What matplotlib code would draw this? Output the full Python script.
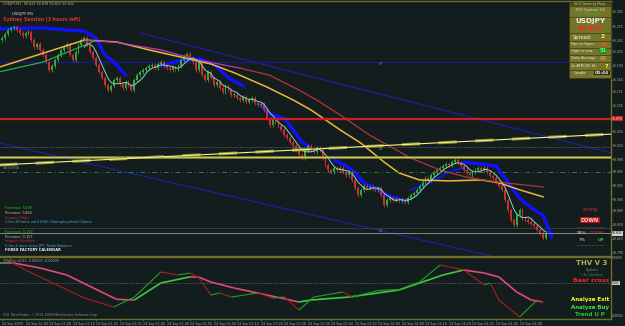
import matplotlib
matplotlib.use("Agg")
import matplotlib.pyplot as plt
import numpy as np
from matplotlib.patches import Rectangle
from matplotlib.collections import LineCollection

nan = np.nan

# USDJPY M1, 24 Sep 2009 -- bar 0 is 01:52
first_open = 91.245
closes = [
    91.249, 91.258, 91.267, 91.271, 91.273, 91.267,
    91.260, 91.254, 91.260,
    91.262, 91.245, 91.230, 91.237,
    91.224, 91.213, 91.198, 91.181,
    91.190, 91.202, 91.213, 91.224, 91.230, 91.237,
    91.213, 91.202,
    91.219, 91.234, 91.245,
    91.249, 91.234, 91.219, 91.207, 91.192, 91.177, 91.164, 91.149, 91.138, 91.147,
    91.160, 91.164, 91.151, 91.143, 91.155,
    91.149, 91.138, 91.160, 91.170, 91.177,
    91.181, 91.185, 91.190, 91.192, 91.185, 91.194, 91.198, 91.190,
    91.185, 91.181, 91.187, 91.183, 91.190,
    91.202, 91.211, 91.215, 91.207,
    91.198, 91.181, 91.198, 91.170, 91.160, 91.177, 91.164, 91.149,
    91.155, 91.143, 91.134, 91.147, 91.138, 91.128,
    91.128, 91.121, 91.117, 91.123, 91.113, 91.117, 91.121, 91.111, 91.106, 91.108,
    91.096, 91.078, 91.063, 91.074,
    91.070, 91.061, 91.053, 91.042,
    91.036, 91.027, 91.019, 91.010,
    90.999, 90.993, 91.010, 91.019, 91.010,
    91.006, 91.014, 91.010,
    90.993, 90.978, 90.967, 90.963, 90.972,
    90.967, 90.972, 90.963, 90.957, 90.963,
    90.946, 90.929, 90.914, 90.925,
    90.933, 90.929, 90.931, 90.927, 90.925, 90.929,
    90.914, 90.892, 90.903,
    90.907, 90.903, 90.905, 90.901, 90.903, 90.899,
    90.907, 90.914, 90.918,
    90.925, 90.933, 90.942, 90.950, 90.946, 90.957, 90.963,
    90.967, 90.972, 90.976, 90.980, 90.978, 90.984, 90.989, 90.982,
    90.976, 90.967, 90.961, 90.957, 90.963,
    90.967, 90.972, 90.967, 90.972,
    90.963, 90.955, 90.950, 90.942,
    90.933, 90.925,
    90.903, 90.882, 90.860, 90.850,
    90.871, 90.882, 90.865,
    90.860, 90.856, 90.852,
    90.848, 90.839, 90.833, 90.822, 90.832,
]

# moving averages (bar, price)
ma_yellow_bars = [-1, 14, 28, 39, 50, 62, 71, 79, 90, 99, 105, 115, 122, 130, 135, 142, 152, 163, 169, 176, 184]
ma_yellow = [91.187, 91.217, 91.245, 91.241, 91.224, 91.207, 91.194, 91.175, 91.145, 91.117, 91.096,
             91.053, 91.025, 90.984, 90.961, 90.946, 90.944, 90.946, 90.940, 90.925, 90.910]
ma_slow_bars = [28, 39, 54, 67, 81, 91, 101, 107, 115, 125, 139, 149, 158, 168, 184]
ma_slow = [91.245, 91.240, 91.224, 91.202, 91.185, 91.170, 91.138, 91.117, 91.085, 91.042,
           90.993, 90.967, 90.952, 90.942, 90.931]
ma_green_bars = [-1, 14, 28, 32]
ma_green = [91.177, 91.198, 91.234, 91.245]

# blue trailing band (gaps as nan)
band_bars = [-1, 13, 28, 32, 35, 38, 42, nan, 54, 61, 67, 72, 77, 82, nan,
             88, 91, 96, 99, 102, 105, nan, 113, 117, 120, 123, 127, 132, 138, nan,
             157, 163, 168, 173, 176, 181, 184, 187]
band = [91.269, 91.271, 91.264, 91.249, 91.213, 91.198, 91.170, nan,
        91.190, 91.202, 91.205, 91.194, 91.164, 91.147, nan,
        91.106, 91.087, 91.078, 91.053, 91.027, 91.014, nan,
        90.989, 90.976, 90.963, 90.940, 90.929, 90.910, 90.901, nan,
        90.984, 90.980, 90.976, 90.933, 90.907, 90.882, 90.871, 90.824]
band_sup_bars = [139, 146, 152, 157]
band_sup = [90.925, 90.942, 90.963, 90.972]

# chart objects
upper_channel = ([47, 207], [91.260, 91.004])
lower_channel = ([-1, 166], [91.025, 90.784])
yellow_trend = ([-1, 207], [90.978, 91.044])
pivot_pp = 91.198
level_red = 91.077
level_r1 = 91.016
level_olive = 90.995
level_green = 90.963
level_dim = 90.843

price_ticks = [91.305, 91.275, 91.245, 91.220, 91.190, 91.160, 91.135, 91.105, 91.050,
               91.020, 90.990, 90.965, 90.935, 90.905, 90.880, 90.850, 90.820, 90.790]

# THVTrix oscillator, units of 1e-5
slow_bars = [-1, 4, 13, 22, 39, 45, 54, 64, 67, 71, 79, 90, 101, 105, 118, 135, 142, 150, 157, 164, 169, 175, 180, 184]
slow_vals = [21.4, 21.4, 16.0, 8.6, -17.5, -18.2, 0.0, 6.6, 6.2, 1.1, -5.4, -12.8, -20.3, -18.2,
             -15.0, -7.5, 0.0, 8.6, 13.9, 10.7, 6.4, -9.6, -18.2, -20.3]
fast_bars = [-1, 3, 8, 28, 38, 45, 54, 60, 64, 67, 71, 74, 78, 87, 92, 96, 101, 106, 116, 119,
             128, 135, 142, 149, 157, 164, 166, 169, 176, 182, 184]
fast_vals = [21.4, 22.5, 13.9, -16.0, -25.7, -15.0, 11.8, 8.6, 10.7, 5.4, -12.8, -10.7, -15.0,
             -10.7, -16.0, -15.0, -28.9, -15.0, -9.6, -15.0, -8.0, -7.0, 1.1, 19.3, 13.9, -2.1,
             0.0, -18.2, -36.4, -18.2, -20.3]

BG = "#141d1d"
OLIVE = "#6e6e2c"
UP = "#36a836"
DOWN = "#cc2e2e"
W, H = 625, 326

fig = plt.figure(figsize=(W / 100, H / 100), dpi=100, facecolor=BG)

# ---- main price panel
ax = fig.add_axes([0, 1 - 256 / H, 611 / W, 255 / H])
ax.set_facecolor(BG)
ax.set_xlim(-0.68, 207.1)
ax.set_ylim(90.7835, 91.3285)

closes = np.array(closes)
opens = np.concatenate([[first_open], closes[:-1]])
bars = np.arange(len(closes))
cols = np.where(closes >= opens, UP, DOWN)
lo = np.minimum(opens, closes)
hi = np.maximum(opens, closes)

# levels and trend lines
ax.axhline(pivot_pp, color="#1a1a80", lw=1.0, zorder=1)
ax.plot(*upper_channel, color="#1e1e90", lw=1.0, zorder=1)
ax.plot(*lower_channel, color="#1e1e90", lw=1.0, zorder=1)
ax.axhline(level_r1, color="#8a8a8a", lw=0.5, ls=(0, (1, 1.5)), zorder=1)
ax.axhline(level_dim, color="#3a4444", lw=0.6, zorder=1)

ax.plot(band_bars, band, color="#1010ff", lw=2.4, solid_capstyle="round", zorder=2)
ax.plot(band_sup_bars, band_sup, color="#1010ff", lw=1.3, zorder=2)

ax.vlines(bars, lo - 0.004, hi + 0.004, colors=cols, lw=0.6, zorder=3)
ax.bar(bars, np.maximum(hi - lo, 0.0008), bottom=lo, width=0.62, color=cols, linewidth=0, zorder=3)

ax.plot(ma_yellow_bars, ma_yellow, color="#eab83a", lw=1.1, zorder=4)
ax.plot(ma_slow_bars[:5], ma_slow[:5], color="#b83cb0", lw=0.9, zorder=4)
ax.plot(ma_slow_bars[4:], ma_slow[4:], color="#b83434", lw=0.9, zorder=4)
ax.plot(ma_green_bars, ma_green, color="#2fa84a", lw=0.9, zorder=4)
fast_ma = np.convolve(closes, np.ones(5) / 5, mode="valid")
ax.plot(bars[4:][24:], fast_ma[24:], color="#7fd6c8", lw=0.7, zorder=4)

ax.axhline(level_red, color="#cc1f1f", lw=1.6, zorder=5)
ax.axhline(level_olive, color="#9a9a3c", lw=1.8, zorder=5)
ax.axhline(level_olive, color="#dede66", lw=0.5, zorder=5)
ax.plot(*yellow_trend, color="#8c8c3a", lw=2.2, ls=(0, (6, 6)), zorder=5)
ax.plot(*yellow_trend, color="#f4f488", lw=0.8, zorder=5)
ax.axhline(level_green, color="#2e7a3e", lw=0.7, ls=(0, (5, 3, 1, 3)), zorder=5)
ax.axhline(closes[-1], color="#9a9a9a", lw=0.6, zorder=5)

ax.text(128, pivot_pp - 0.006, "PP", color="#7a7a7a", fontsize=2.6, zorder=6)
ax.text(128, level_r1 - 0.006, "R1", color="#7a7a7a", fontsize=2.6, zorder=6)
ax.text(128, closes[-1] + 0.002, "S1", color="#7a7a7a", fontsize=2.6, zorder=6)

ax.yaxis.tick_right()
ax.set_yticks(price_ticks)
ax.set_yticklabels([f"{p:.3f}" for p in price_ticks])
ax.tick_params(axis="y", colors=OLIVE, labelcolor="#b4b4b4", labelsize=2.2, length=1.2, width=0.5, pad=0.3)
ax.set_xticks([])
ax.spines["left"].set_visible(False)
for s in ["top", "right", "bottom"]:
    ax.spines[s].set_color(OLIVE)
    ax.spines[s].set_linewidth(1.0)

ax.text(1.002, level_red, "91.076", transform=ax.get_yaxis_transform(), fontsize=2.2, color="white",
        va="center", ha="left", clip_on=False,
        bbox=dict(boxstyle="square,pad=0.1", fc="#cc1f1f", ec="none"))
ax.text(1.002, closes[-1], "90.832", transform=ax.get_yaxis_transform(), fontsize=2.2, color="black",
        va="center", ha="left", clip_on=False,
        bbox=dict(boxstyle="square,pad=0.1", fc="#d8d8c8", ec="none"))

# ---- oscillator panel
ox = fig.add_axes([0, 1 - 319 / H, 611 / W, 62 / H])
ox.set_facecolor(BG)
ox.set_xlim(-0.68, 207.1)
ox.set_ylim(-38.5e-5, 27.8e-5)
ox.axhline(0, color="#8a8a8a", lw=0.5, ls=(0, (1, 1.5)))


def colored_line(xs, vs, up_col, dn_col, lw):
    pts = np.column_stack([xs, np.array(vs) * 1e-5])
    segs = np.stack([pts[:-1], pts[1:]], axis=1)
    cs = [up_col if b > a else dn_col for a, b in zip(vs[:-1], vs[1:])]
    ox.add_collection(LineCollection(segs, colors=cs, linewidths=lw))


colored_line(slow_bars, slow_vals, "#3cc83c", "#e04a78", 1.2)
colored_line(fast_bars, fast_vals, "#22a022", "#a82020", 0.8)

time_bars = [0] + [8 + 8 * k for k in range(22)]
time_labels = ["24 Sep 2009"] + [f"24 Sep {(120 + 8 * k) // 60:02d}:{(120 + 8 * k) % 60:02d}" for k in range(22)]
ox.set_xticks(time_bars)
ox.set_xticklabels(time_labels, ha="left")
ox.tick_params(axis="x", colors=OLIVE, labelcolor="#a8a8a8", labelsize=2.3, length=1.5, width=0.5, pad=0.3)
ox.set_yticks([])
ox.spines["left"].set_visible(False)
for s in ["top", "right", "bottom"]:
    ox.spines[s].set_color(OLIVE)
    ox.spines[s].set_linewidth(1.0)

# ---- overlay texts (pixel coordinates)
ov = fig.add_axes([0, 0, 1, 1], zorder=10)
ov.set_xlim(0, W)
ov.set_ylim(H, 0)
ov.axis("off")
ov.patch.set_alpha(0)


def t(x, y, s, c, size=3.0, bold=False, ha="left", **kw):
    ov.text(x, y, s, color=c, fontsize=size, fontweight="bold" if bold else "normal",
            ha=ha, va="center", **kw)


t(3, 4, "USDJPY,M1  90.823 90.838 90.823 90.832", "#b0b0b0", 2.4)
t(12, 14, "USDJPY M1", "#e8e8e8", 2.8)
t(3, 20, "Sydney Session (3 hours left)", "#d83030", 3.3, True)
t(3, 168, "#13/5(d)", "#8a8a8a", 2.8)

t(5, 208, "Forecast: 540K", "#22c022", 2.6)
t(5, 213, "Previous: 545K", "#c8b898", 2.6)
t(5, 217.5, "Impact: High", "#e02222", 2.6)
t(5, 222, "2 hrs 28 mins until USD: Unemployment Claims", "#4aa8e0", 2.6)
t(5, 232, "Forecast: 0.16T", "#22c022", 2.6)
t(5, 236.5, "Previous: 0.15T", "#c8b898", 2.6)
t(5, 241, "Impact: Medium", "#e02222", 2.6)
t(5, 245.5, "5 hrs 4 mins since JPY: Trade Balance", "#4aa8e0", 2.6)
t(5, 250, "FOREX FACTORY CALENDAR", "#f0f0f0", 2.6, True)

# info panel
PANEL = "#74742a"
EDGE = "#3c3c12"
ov.add_patch(Rectangle((569, 1.5), 42, 76, fc=PANEL, ec=EDGE, lw=0.6))
ov.add_patch(Rectangle((569, 1.5), 42, 4.5, fc="#4e4e1a", ec=EDGE, lw=0.4))
for y0 in [17, 33, 40.5, 47.5, 55, 62, 69.5]:
    ov.plot([569, 611], [y0, y0], color=EDGE, lw=0.5)
t(590, 4, "SLCP_Home by Phoxi", "#c8c8b0", 2.2, ha="center")
t(590, 9.5, "THV System V3", "#d8d8c0", 2.8, ha="center")
t(590, 14, "\u00a9 Cobraforex", "#38c038", 2.2, ha="center")
t(590, 21.5, "USDJPY", "#f0f0e0", 5.2, True, ha="center")
t(590, 29, "90.838", "#ff2222", 4.6, True, ha="center")
t(573, 37, "Spread:", "#f0f0e0", 3.6)
t(603, 37, "2", "#ffff30", 4.2, True, ha="center")
t(571, 44, "Pips to Open:", "#f0f0e0", 2.5)
t(603, 44, "-48", "#ff5030", 3.6, True, ha="center")
t(571, 51, "High to Low:", "#f0f0e0", 2.5)
t(603, 51, "51", "#60ff60", 3.6, True, ha="center",
  bbox=dict(boxstyle="square,pad=0.1", fc="#2c8a2c", ec="none"))
t(571, 58.5, "Daily Average:", "#f0f0e0", 2.5)
t(603, 58.5, "90", "#e08a30", 3.6, True, ha="center")
t(571, 66, "2x ATR(20) SL:", "#f0f0e0", 2.5)
t(606, 66, "7", "#ffff30", 3.6, True, ha="center")
t(574, 73, "Candle:", "#f0f0e0", 2.5)
t(602, 73, "00:44", "#f0f0f0", 3.2, True, ha="center",
  bbox=dict(boxstyle="square,pad=0.1", fc="#2a2a14", ec="none"))

# trend strength
t(590, 210, "strong", "#c83030", 3.4, ha="center")
t(590, 220, "DOWN", "#ffd0d0", 3.6, True, ha="center",
  bbox=dict(boxstyle="square,pad=0.15", fc="#c01010", ec="none"))
ov.plot([576, 604], [227, 227], color="#a04040", lw=0.5, ls=(0, (1, 1)))
t(586, 233, "93%", "#e8e8e8", 3.2, ha="right")
t(597, 233, "DOWN", "#d83030", 3.2, ha="center")
t(586, 240, "7%", "#e8e8e8", 3.2, ha="right")
t(601, 240, "UP", "#30c030", 3.2, True, ha="center")
ov.plot([576, 604], [245, 245], color="#707070", lw=0.5, ls=(0, (1, 1)))

# oscillator captions
t(3, 261, "THVTrix v4.01 -0.00007 -0.00006", "#a0a0a0", 2.4)
t(3, 315, "OOL MetaTrader, \u00a9 2001-2009 MetaQuotes Software Corp.", "#8a8a8a", 2.3)
t(611.5, 258, "0.00030", "#b4b4b4", 2.0)
t(612, 283, "0.000", "#202020", 2.0, bbox=dict(boxstyle="square,pad=0.1", fc="#c8c8c8", ec="none"))
t(611.5, 316, "-0.00032", "#b4b4b4", 2.0)
t(592, 263, "THV V 3", "#b4b450", 5.0, True, ha="center")
t(592, 270, "System", "#8a8a50", 2.4, ha="center")
t(592, 275, "\u00a9 By Cobraforex", "#30a030", 2.0, ha="center")
t(591, 280.5, "Bear cross", "#ff2020", 4.4, True, ha="center")
t(590, 300, "Analyze Exit", "#ffff30", 4.0, True, ha="center")
t(590, 307.5, "Analyze Buy", "#40e040", 4.0, True, ha="center")
t(590, 315, "Trend U P", "#30c030", 4.0, True, ha="center")

fig.savefig("out.png", dpi=100, facecolor=BG)
